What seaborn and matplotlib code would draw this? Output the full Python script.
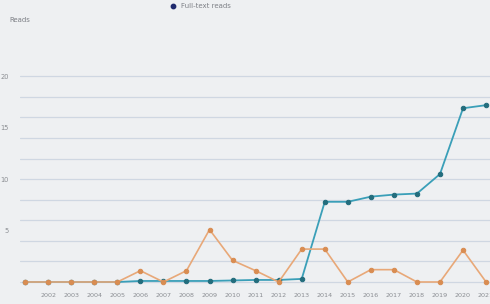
import numpy as np
import pandas as pd
import matplotlib
matplotlib.use("Agg")
import matplotlib.pyplot as plt
from matplotlib.ticker import FixedLocator
import seaborn as sns

# values
years = list(range(2001, 2022))
full_text_reads = [0, 0, 0, 0, 0, 0.1, 0.1, 0.1, 0.1, 0.15, 0.2, 0.2, 0.3,
                   7.8, 7.8, 8.3, 8.5, 8.6, 10.5, 16.9, 17.2]
other_reads = [0, 0, 0, 0, 0, 1.1, 0, 1.1, 5.1, 2.1, 1.1, 0, 3.2,
               3.2, 0, 1.2, 1.2, 0, 0, 3.1, 0]
tick_years = list(range(2002, 2022))
y_ticks = [5, 10, 15, 20]
y_labels = ["5", "10", "15", "20"]
grid_levels = list(range(0, 21, 2))

df = pd.DataFrame({"year": years, "full": full_text_reads, "other": other_reads})

sns.set_style("white")
plt.rcParams["font.family"] = ["DejaVu Sans"]

bg = "#eef0f2"
fig = plt.figure(figsize=(4.9, 3.04), dpi=100, facecolor=bg)
ax = fig.add_axes([0.041, 0.046, 0.959, 0.855])
ax.set_facecolor(bg)

sns.lineplot(data=df, x="year", y="full", ax=ax, color="#3a9fb8", linewidth=1.3,
             marker="o", markersize=3.2, markerfacecolor="#236d7d",
             markeredgecolor="#236d7d", zorder=3)
sns.lineplot(data=df, x="year", y="other", ax=ax, color="#e8a878", linewidth=1.2,
             marker="o", markersize=3.2, markerfacecolor="#d98d52",
             markeredgecolor="#d98d52", zorder=4)

ax.set_xlim(2000.78, 2021.17)
ax.set_xticks(tick_years)
ax.set_xticklabels([str(y) for y in tick_years], fontsize=4.6, color="#8a8d92")
ax.set_yticks(y_ticks)
ax.set_yticklabels(y_labels, fontsize=4.8, color="#8a8d92")
ax.yaxis.set_minor_locator(FixedLocator(grid_levels))
ax.yaxis.remove_overlapping_locs = False
ax.set_ylim(-0.78, 24.5)
ax.grid(False)
ax.grid(which="minor", axis="y", color="#cfd7e2", linewidth=0.9)
ax.tick_params(axis="both", which="both", length=0, pad=2)
ax.tick_params(axis="y", pad=8)
for s in ax.spines.values():
    s.set_visible(False)
ax.set_xlabel("")
ax.set_ylabel("")

fig.text(0.02, 0.935, "Reads", fontsize=5, color="#7d8086", va="center")
ax.scatter([], [], s=10, color="#1f2a6e", label="Full-text reads")
ax.legend(loc="upper center", bbox_to_anchor=(0.38, 1.13), frameon=False,
          fontsize=5, handletextpad=0.2, labelcolor="#7d8086")

fig.savefig("out.png", dpi=100, facecolor=bg)
